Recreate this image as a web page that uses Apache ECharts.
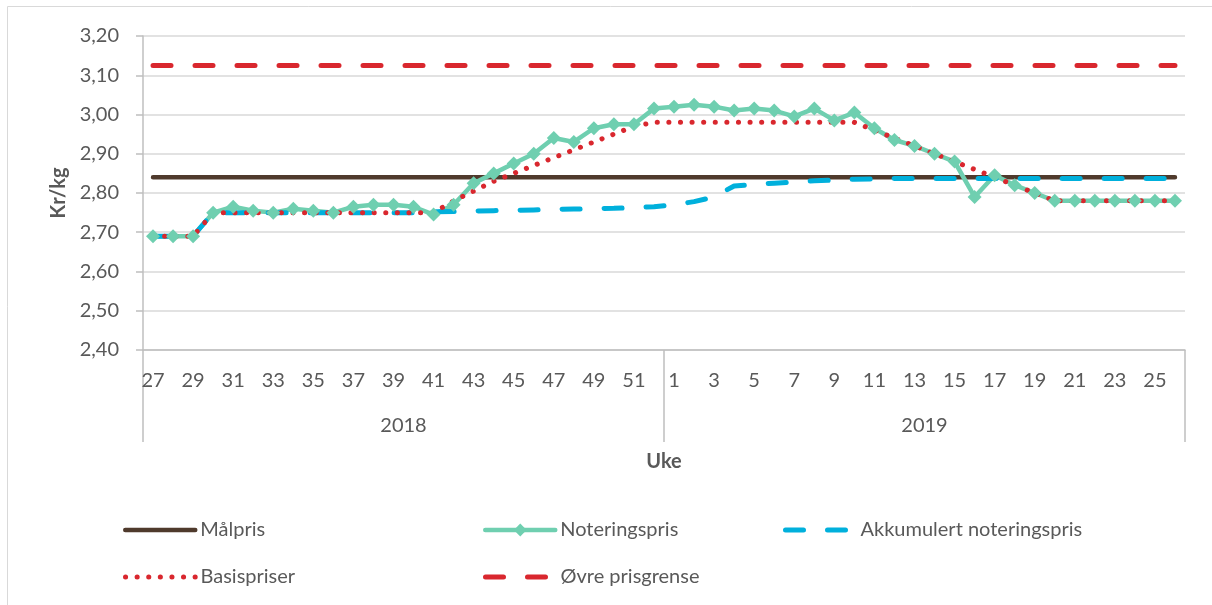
<!DOCTYPE html>
<html>
<head>
<meta charset="utf-8">
<script src="https://cdn.jsdelivr.net/npm/echarts@6/dist/echarts.min.js"></script>
<style>
  html, body { margin: 0; padding: 0; background: #fff; }
  #container { width: 1212px; height: 605px; }
</style>
</head>
<body>
<div id="container"></div>
<script>
var weeks = ['27','28','29','30','31','32','33','34','35','36','37','38','39','40','41','42','43','44','45','46','47','48','49','50','51','52',
             '1','2','3','4','5','6','7','8','9','10','11','12','13','14','15','16','17','18','19','20','21','22','23','24','25','26'];
var years = ['2018', '2019'];

var malpris = [];
var ovrePrisgrense = [];
for (var i = 0; i < weeks.length; i++) { malpris.push(2.84); ovrePrisgrense.push(3.125); }

var noteringspris = [2.69, 2.69, 2.69, 2.75, 2.765, 2.755, 2.75, 2.76, 2.755, 2.75, 2.765, 2.77, 2.77, 2.765, 2.745, 2.77,
    2.825, 2.85, 2.875, 2.90, 2.94, 2.93, 2.965, 2.975, 2.975, 3.015,
    3.02, 3.025, 3.02, 3.01, 3.015, 3.01, 2.995, 3.015, 2.985, 3.005, 2.965, 2.935, 2.92, 2.90, 2.88, 2.79,
    2.845, 2.82, 2.80, 2.78, 2.78, 2.78, 2.78, 2.78, 2.78, 2.78];

var akkumulert = [2.69, 2.69, 2.69, 2.75, 2.75, 2.75, 2.75, 2.75, 2.75, 2.75, 2.75, 2.75, 2.75, 2.75, 2.752, 2.753,
    2.754, 2.755, 2.756, 2.757, 2.758, 2.759, 2.76, 2.761, 2.763, 2.765,
    2.77, 2.778, 2.79, 2.818, 2.822, 2.825, 2.828, 2.831, 2.833, 2.835, 2.836, 2.837, 2.837, 2.837, 2.837, 2.837,
    2.837, 2.837, 2.837, 2.837, 2.837, 2.837, 2.837, 2.837, 2.837, 2.837];

var basispriser = [2.69, 2.69, 2.69, 2.75, 2.75, 2.75, 2.75, 2.75, 2.75, 2.75, 2.75, 2.75, 2.75, 2.75, 2.75, 2.78,
    2.805, 2.83, 2.85, 2.87, 2.89, 2.91, 2.93, 2.95, 2.97, 2.98,
    2.98, 2.98, 2.98, 2.98, 2.98, 2.98, 2.98, 2.98, 2.98, 2.98, 2.96, 2.94, 2.92, 2.90, 2.88, 2.86,
    2.84, 2.82, 2.80, 2.78, 2.78, 2.78, 2.78, 2.78, 2.78, 2.78];

var font = 'Lato';
var textColor = '#595959';
var axisGray = '#bfbfbf';

var myChart = echarts.init(document.getElementById('container'));

// one legend per item so they sit in the same grid as the original
function legendAt(name, left, top, withSymbol) {
    return {
        data: [name],
        left: left,
        top: top,
        padding: 0,
        itemWidth: 70,
        itemHeight: 16,
        lineStyle: { width: 'inherit' },
        itemStyle: withSymbol ? {} : { opacity: 0 },
        textStyle: { fontFamily: font, fontSize: 20, color: textColor }
    };
}

var option = {
    animation: false,
    graphic: [{
        type: 'rect',
        shape: { x: 7.5, y: 6.5, width: 1400, height: 800 },
        style: { fill: 'none', stroke: '#d9d9d9', lineWidth: 1 },
        silent: true
    }],
    legend: [
        legendAt('Målpris', 123, 520, false),
        legendAt('Noteringspris', 483, 520, true),
        legendAt('Akkumulert noteringspris', 783, 520, false),
        legendAt('Basispriser', 123, 567, false),
        legendAt('Øvre prisgrense', 483, 567, false)
    ],
    grid: { left: 143, right: 27, top: 36, bottom: 255 },
    xAxis: [{
        type: 'category',
        data: weeks,
        boundaryGap: true,
        axisLine: { show: true, lineStyle: { color: axisGray, width: 1.5 } },
        axisTick: { show: false },
        axisLabel: { interval: 1, margin: 21, fontFamily: font, fontSize: 20, color: textColor }
    }, {
        type: 'category',
        data: years,
        position: 'bottom',
        boundaryGap: true,
        axisLine: { show: false },
        axisTick: { show: true, length: 92, interval: 0, lineStyle: { color: axisGray, width: 1.5 } },
        axisLabel: { margin: 66, fontFamily: font, fontSize: 20, color: textColor },
        name: 'Uke',
        nameLocation: 'middle',
        nameGap: 102,
        nameTextStyle: { fontFamily: font, fontSize: 20, fontWeight: 'bold', color: textColor }
    }],
    yAxis: {
        type: 'value',
        min: 2.4,
        max: 3.2,
        interval: 0.1,
        name: 'Kr/kg',
        nameLocation: 'middle',
        nameGap: 73,
        nameTextStyle: { fontFamily: font, fontSize: 20, fontWeight: 'bold', color: textColor },
        axisLine: { show: true, lineStyle: { color: axisGray, width: 1.5 } },
        axisTick: { show: true, length: 7, lineStyle: { color: axisGray, width: 1.5 } },
        splitLine: { lineStyle: { color: '#d9d9d9', width: 1.5 } },
        axisLabel: {
            margin: 24,
            fontFamily: font, fontSize: 20, color: textColor,
            formatter: function (v) { return v.toFixed(2).replace('.', ','); }
        }
    },
    series: [{
        name: 'Målpris',
        type: 'line',
        data: malpris,
        symbol: 'none',
        color: '#4f3a2c',
        lineStyle: { width: 4.5, cap: 'round' }
    }, {
        name: 'Noteringspris',
        type: 'line',
        data: noteringspris,
        symbol: 'diamond',
        symbolSize: 14,
        showAllSymbol: true,
        color: '#6fcfb0',
        lineStyle: { width: 4.5, cap: 'round' }
    }, {
        name: 'Akkumulert noteringspris',
        type: 'line',
        data: akkumulert,
        symbol: 'none',
        color: '#00b0dc',
        lineStyle: { width: 5, type: [18, 24], cap: 'round' }
    }, {
        name: 'Basispriser',
        type: 'line',
        data: basispriser,
        symbol: 'none',
        color: '#d9272e',
        lineStyle: { width: 5, type: [0.1, 11.5], cap: 'round' }
    }, {
        name: 'Øvre prisgrense',
        type: 'line',
        data: ovrePrisgrense,
        symbol: 'none',
        color: '#d9272e',
        lineStyle: { width: 5, type: [18, 24], cap: 'round' }
    }]
};

myChart.setOption(option);
</script>
</body>
</html>
